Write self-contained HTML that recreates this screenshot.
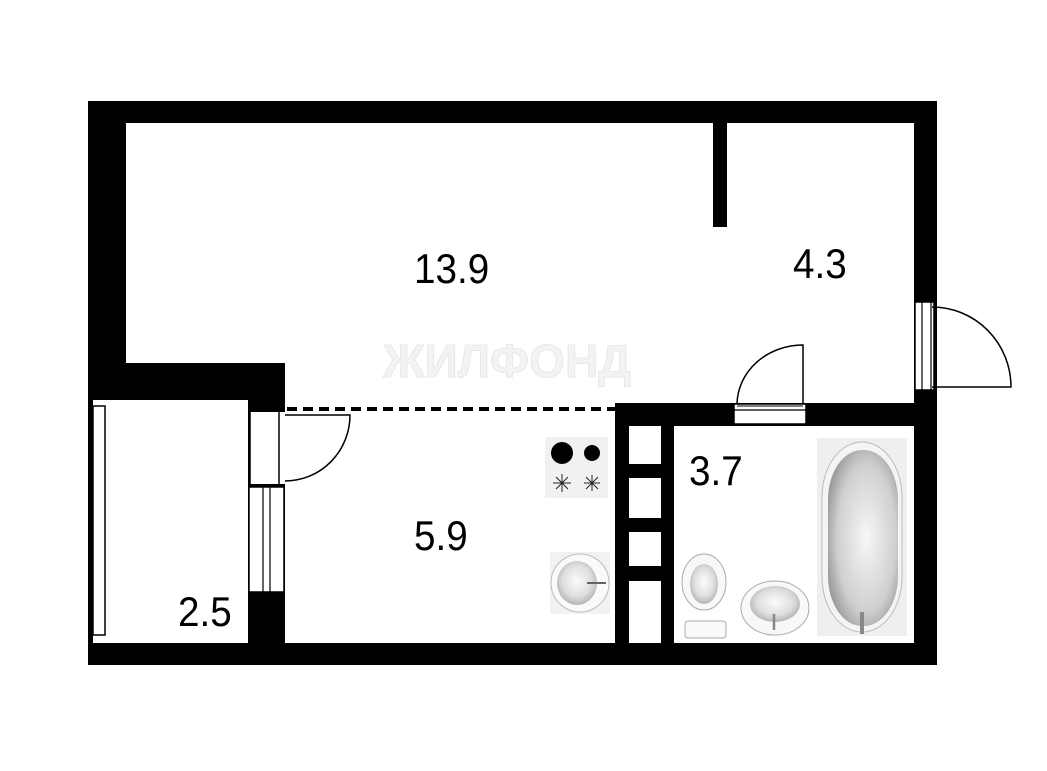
<!DOCTYPE html>
<html><head><meta charset="utf-8"><style>
html,body{margin:0;padding:0;background:#fff;}
svg{display:block}
text{font-family:"Liberation Sans",sans-serif;}
</style></head><body>
<svg width="1047" height="771" viewBox="0 0 1047 771" xmlns="http://www.w3.org/2000/svg">
<defs>
<radialGradient id="g1" cx="50%" cy="45%" r="60%"><stop offset="0" stop-color="#fbfbfb"/><stop offset="0.6" stop-color="#dedede"/><stop offset="1" stop-color="#aaa"/></radialGradient>
<radialGradient id="g2" cx="55%" cy="50%" r="60%"><stop offset="0" stop-color="#f7f7f7"/><stop offset="0.7" stop-color="#cfcfcf"/><stop offset="1" stop-color="#999"/></radialGradient>
</defs>
<rect width="1047" height="771" fill="#fff"/>
<!-- watermark -->
<text x="383" y="377" font-size="46" font-weight="bold" fill="#f3f3f3" stroke="#e8e8e8" stroke-width="1">ЖИЛФОНД</text>
<!-- walls -->
<g fill="#000">
<rect x="88" y="101" width="849" height="22"/>
<rect x="88" y="101" width="38" height="299"/>
<rect x="88" y="363" width="197" height="37"/>
<rect x="88" y="400" width="5" height="243"/>
<rect x="88" y="643" width="849" height="22"/>
<rect x="914" y="101" width="23" height="564"/>
<rect x="713" y="123" width="14" height="104"/>
<rect x="248" y="400" width="37" height="243"/>
<rect x="615" y="403" width="322" height="23"/>
<rect x="615" y="403" width="59" height="240"/>
</g>
<!-- balcony window left -->
<rect x="93" y="406" width="12" height="229" fill="#fff" stroke="#000" stroke-width="1.5"/>
<!-- balcony door -->
<rect x="250" y="412" width="35" height="73" fill="#fff"/>
<line x1="250" y1="412" x2="250" y2="485" stroke="#000" stroke-width="1.5"/>
<line x1="279" y1="412" x2="279" y2="485" stroke="#000" stroke-width="1.5"/>
<rect x="248" y="484" width="37" height="3" fill="#000"/>
<path d="M285 415 H350 A65 66 0 0 1 285 481" fill="none" stroke="#000" stroke-width="1.5"/>
<!-- balcony window right -->
<rect x="249" y="487" width="35" height="105" fill="#fff" stroke="#000" stroke-width="1.5"/>
<line x1="263" y1="487" x2="263" y2="592" stroke="#000" stroke-width="1.2"/>
<line x1="270" y1="487" x2="270" y2="592" stroke="#000" stroke-width="1.2"/>
<!-- dashed -->
<line x1="287" y1="409" x2="615" y2="409" stroke="#000" stroke-width="4" stroke-dasharray="10 6"/>
<!-- vent cells -->
<g fill="#fff">
<rect x="629" y="426" width="32" height="38"/>
<rect x="629" y="478" width="32" height="40"/>
<rect x="629" y="532" width="32" height="34"/>
<rect x="629" y="581" width="32" height="62"/>
</g>
<!-- bath door -->
<rect x="734" y="404" width="72" height="20" fill="#fff" stroke="#000" stroke-width="1.5"/>
<line x1="734" y1="410" x2="806" y2="410" stroke="#000" stroke-width="1.2"/>
<line x1="737" y1="406" x2="803" y2="406" stroke="#000" stroke-width="1"/>
<path d="M803 404 V345 A66 60 0 0 0 737 404" fill="none" stroke="#000" stroke-width="1.5"/>
<!-- right door -->
<rect x="915" y="302" width="19" height="88" fill="#fff" stroke="#000" stroke-width="1.5"/>
<line x1="922" y1="302" x2="922" y2="390" stroke="#000" stroke-width="1.2"/>
<line x1="931" y1="302" x2="931" y2="390" stroke="#000" stroke-width="1.2"/>
<path d="M932 307 A79 80 0 0 1 1011 387 H932" fill="none" stroke="#000" stroke-width="1.5"/>
<!-- stove -->
<rect x="545" y="437" width="63" height="61" fill="#f1f1f1"/>
<circle cx="562" cy="453" r="11" fill="#000"/>
<circle cx="592" cy="453" r="8" fill="#000"/>
<g stroke="#222" stroke-width="1">
<path d="M553 483 H571 M562 474 V492 M556 477 L568 489 M568 477 L556 489"/>
<path d="M584 483 H600 M592 475 V491 M586 477 L598 489 M598 477 L586 489"/>
</g>
<!-- kitchen sink -->
<rect x="550" y="552" width="60" height="62" fill="#f2f2f2"/>
<circle cx="580" cy="583" r="29" fill="#fafafa" stroke="#bbb" stroke-width="1"/>
<ellipse cx="577" cy="583" rx="20" ry="22" fill="url(#g1)"/>
<line x1="587" y1="583" x2="606" y2="583" stroke="#666" stroke-width="2"/>
<!-- toilet -->
<ellipse cx="704" cy="582" rx="22" ry="28" fill="#f8f8f8" stroke="#aaa"/>
<ellipse cx="704" cy="584" rx="14" ry="20" fill="url(#g1)"/>
<rect x="685" y="621" width="41" height="17" rx="3" fill="#fafafa" stroke="#aaa"/>
<!-- sink -->
<ellipse cx="775" cy="608" rx="34" ry="27" fill="#f8f8f8" stroke="#aaa"/>
<ellipse cx="775" cy="604" rx="25" ry="18" fill="url(#g1)"/>
<line x1="774" y1="614" x2="774" y2="630" stroke="#888" stroke-width="2.5"/>
<!-- bath -->
<rect x="817" y="438" width="90" height="198" fill="#efefef"/>
<rect x="822" y="442" width="80" height="190" rx="40" ry="55" fill="#f4f4f4" stroke="#bbb"/>
<rect x="828" y="450" width="70" height="176" rx="34" ry="50" fill="url(#g2)"/>
<line x1="862" y1="612" x2="862" y2="634" stroke="#888" stroke-width="4"/>
<!-- labels -->
<g font-size="42" fill="#000">
<text x="414" y="283" transform="translate(414 0) scale(0.92 1) translate(-414 0)">13.9</text>
<text x="793" y="278" transform="translate(793 0) scale(0.92 1) translate(-793 0)">4.3</text>
<text x="414" y="550" transform="translate(414 0) scale(0.92 1) translate(-414 0)">5.9</text>
<text x="689" y="485" transform="translate(689 0) scale(0.92 1) translate(-689 0)">3.7</text>
<text x="178" y="626" transform="translate(178 0) scale(0.92 1) translate(-178 0)">2.5</text>
</g>
</svg>
</body></html>
